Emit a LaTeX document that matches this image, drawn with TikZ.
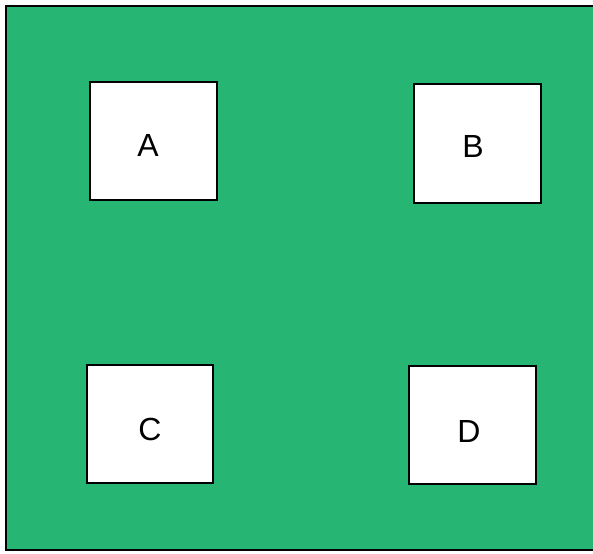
\documentclass[tikz,border=0pt]{standalone}
\usepackage{fontspec}
\setmainfont{Liberation Sans}
\definecolor{bggreen}{HTML}{27B574}
\begin{document}
\begin{tikzpicture}[x=1pt,y=-1pt,
  card/.style={draw=black,line width=2pt,fill=white,inner sep=0pt},
  lbl/.style={font=\fontsize{32}{32}\selectfont,inner sep=0pt,anchor=center}]
\useasboundingbox (0,0) rectangle (593,553);
\begin{scope}
\clip (0,0) rectangle (593,553);
\draw[line width=2pt,fill=bggreen] (6,6) rectangle (610,550);
\end{scope}
\node[card,minimum width=127pt,minimum height=118pt] (a) at (153.5,141) {};
\node[card,minimum width=127pt,minimum height=119pt] (b) at (477.5,143.5) {};
\node[card,minimum width=126pt,minimum height=118pt] (c) at (150,424) {};
\node[card,minimum width=127pt,minimum height=118pt] (d) at (472.5,425) {};
\node[lbl] (la) at (148,145) {A};
\node[lbl] (lb) at (473,146) {B};
\node[lbl] (lc) at (150,429) {C};
\node[lbl] (ld) at (469,431) {D};
\end{tikzpicture}
\end{document}
